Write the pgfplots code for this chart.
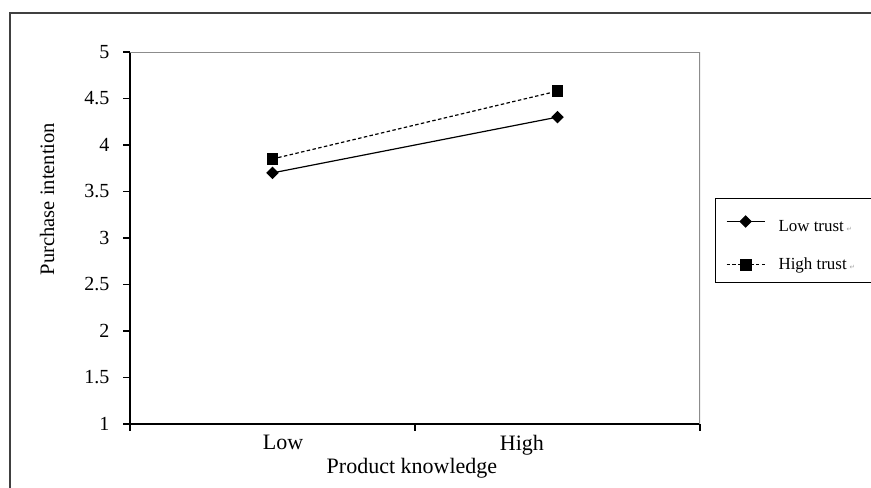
\documentclass[border=0pt]{standalone}
\usepackage{pgfplots}
\pgfplotsset{compat=1.18}
\usepackage{fontspec}
\setmainfont{Liberation Serif}
\newfontfamily\symfont{DejaVu Sans}
\newcommand{\pmark}{\,\textcolor{black!35}{\fontsize{5}{5}\symfont ↵}\hspace*{32pt}}

\begin{document}
\begin{tikzpicture}[x=1pt,y=1pt]
\useasboundingbox (0,0) rectangle (653.25,365.25);
\clip (0,0) rectangle (653.25,365.25);
\begin{axis}[
    at={(97.5pt,47.25pt)}, anchor=south west,
    scale only axis, width=427.5pt, height=279pt,
    xmin=0, xmax=2, ymin=1, ymax=5,
    axis lines*=left,
    axis line style={line width=0.9pt, black},
    tick align=outside,
    major tick length=5pt,
    tick style={black, line width=0.8pt},
    ytick={1,1.5,2,2.5,3,3.5,4,4.5,5},
    yticklabel style={font=\fontsize{15}{18}\selectfont, xshift=-7pt, /pgf/number format/assume math mode=true},
    xtick={0,1,2},
    xticklabels={},
    extra x ticks={0.537,1.375},
    extra x tick labels={Low,High},
    extra x tick style={tick style={draw=none}},
    xticklabel style={font=\fontsize{16.5}{19}\selectfont},
    xlabel={Product knowledge},
    xlabel style={at={(axis description cs:0.4947,-0.132)}, anchor=base, font=\fontsize{16.5}{19}\selectfont},
    ylabel={Purchase intention},
    ylabel style={at={(axis description cs:-0.1456,0.605)}, anchor=center, font=\fontsize{15.4}{18}\selectfont},
    legend style={at={(axis description cs:1.026,0.6075)}, anchor=north west,
        draw=black, line width=0.75pt,
        nodes={font=\fontsize{12.7}{15}\selectfont, scale=1, transform shape=false},
        inner xsep=8pt, inner ysep=6pt, row sep=14pt},
    legend cell align=left,
    legend image code/.code={\draw[mark repeat=2,mark phase=2,#1] plot coordinates {(0pt,0pt) (14.25pt,0pt) (28.5pt,0pt)};},
]
\addplot[black, line width=0.9pt, mark=square*, mark size=2.9pt, mark options={solid, rotate=45}]
    coordinates {(0.5,3.7) (1.5,4.3)};
\addlegendentry{\hspace*{8pt}\rule{0pt}{17pt}Low trust\pmark}
\addplot[black, line width=0.9pt, dash pattern=on 2.6pt off 1.8pt, mark=square*, mark size=4pt, mark options={solid}]
    coordinates {(0.5,3.85) (1.5,4.58)};
\addlegendentry{\hspace*{8pt}High trust\pmark}
\draw[black!45, line width=1.5pt] (rel axis cs:0,1) -- (rel axis cs:1,1) -- (rel axis cs:1,0);
\end{axis}
\draw[black!75, line width=0.9pt] (7.5,-5) -- (7.5,355.5) -- (660,355.5);
\end{tikzpicture}
\end{document}
